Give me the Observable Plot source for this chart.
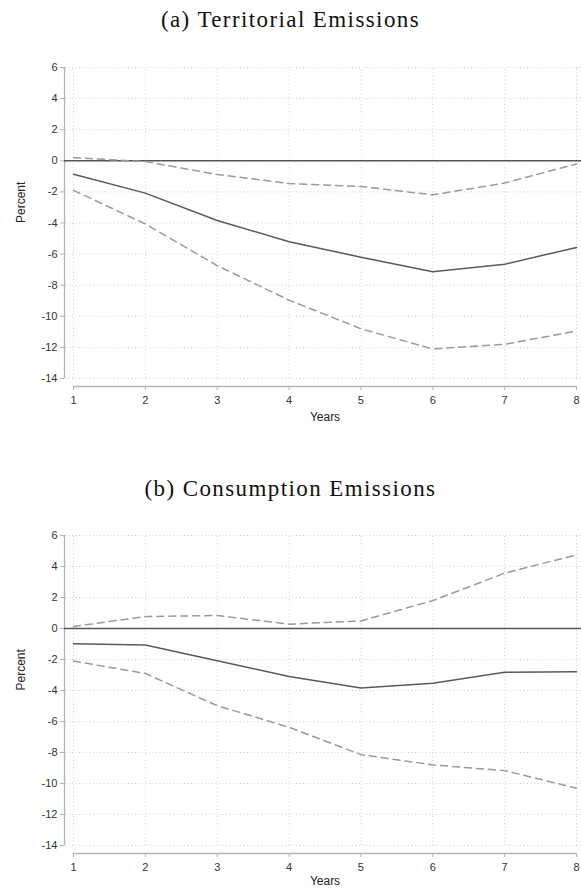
<!DOCTYPE html>
<html>
<head>
<meta charset="utf-8">
<script src="https://cdn.jsdelivr.net/npm/d3@7"></script>
<script src="https://cdn.jsdelivr.net/npm/@observablehq/plot@0.6"></script>
<style>
  html, body { margin: 0; padding: 0; background: #fff; }
  body { width: 581px; }
  .title { font-family: "Liberation Serif", "DejaVu Serif", serif; font-size: 23px; letter-spacing: 1.4px; color: #111; text-align: center; width: 581px; }
  svg { display: block; }
</style>
</head>
<body>
<div id="root"></div>
<script>
const years = [1, 2, 3, 4, 5, 6, 7, 8];
const yTicks = [6, 4, 2, 0, -2, -4, -6, -8, -10, -12, -14];

// (a) Territorial emissions
const terrPoint = [-0.87, -2.08, -3.84, -5.2, -6.2, -7.14, -6.65, -5.57];
const terrUpper = [0.2, -0.05, -0.88, -1.46, -1.65, -2.19, -1.43, -0.2];
const terrLower = [-1.9, -4.06, -6.74, -8.96, -10.8, -12.1, -11.8, -10.95];

// (b) Consumption emissions
const consPoint = [-0.99, -1.07, -2.08, -3.09, -3.84, -3.53, -2.82, -2.79];
const consUpper = [0.13, 0.77, 0.84, 0.28, 0.49, 1.8, 3.57, 4.75];
const consLower = [-2.1, -2.9, -4.98, -6.37, -8.14, -8.8, -9.17, -10.3];

function rows(vals) { return years.map((x, i) => ({x, y: vals[i]})); }

function panel(point, upper, lower, mTop, span, mBottom, yearsDy) {
  const height = mTop + span + mBottom;
  return Plot.plot({
    width: 581,
    height,
    marginTop: mTop,
    marginBottom: mBottom,
    marginLeft: 73,
    marginRight: 5,
    style: { fontFamily: "'Liberation Sans', Arial, sans-serif", fontSize: "11px", color: "#333", background: "#fff" },
    x: { domain: [1, 8], label: null },
    y: { domain: [-14, 6], label: null },
    marks: [
      // grid
      Plot.ruleY(yTicks, { stroke: "#cfcfcf", strokeDasharray: "1,2.5", strokeWidth: 1, insetLeft: -8, insetRight: -5 }),
      Plot.ruleX(years, { y1: -14, y2: 6, stroke: "#cfcfcf", strokeDasharray: "1,2.5", strokeWidth: 1 }),
      // axis lines
      Plot.ruleX([1], { y1: -14, y2: 6, dx: -9, stroke: "#b5b5b5", strokeWidth: 1.3 }),
      Plot.ruleY([-14], { x1: 1, x2: 8, dy: 8, stroke: "#b5b5b5", strokeWidth: 1.3 }),
      Plot.axisY({ ticks: yTicks, tickFormat: d => String(d), dx: -9, tickSize: 4, stroke: "#b5b5b5", tickPadding: 3, label: null }),
      Plot.axisX({ ticks: years, tickFormat: d => String(d), dy: 8, tickSize: 4, stroke: "#b5b5b5", tickPadding: 6, label: null }),
      Plot.text(["Percent"], { frameAnchor: "left", dx: -52, rotate: -90, fontSize: 12, fill: "#222" }),
      Plot.text(["Years"], { frameAnchor: "bottom", dy: yearsDy, fontSize: 12, fill: "#222" }),
      // zero line
      Plot.ruleY([0], { stroke: "#555", strokeWidth: 1.5, insetLeft: -9, insetRight: -5 }),
      // bands and estimate
      Plot.line(rows(upper), { x: "x", y: "y", stroke: "#9a9a9a", strokeWidth: 1.5, strokeDasharray: "7,5" }),
      Plot.line(rows(lower), { x: "x", y: "y", stroke: "#9a9a9a", strokeWidth: 1.5, strokeDasharray: "7,5" }),
      Plot.line(rows(point), { x: "x", y: "y", stroke: "#5a5a5a", strokeWidth: 1.5 })
    ]
  });
}

const root = document.getElementById("root");
const t1 = document.createElement("div");
t1.className = "title";
t1.style.height = "40px";
t1.style.lineHeight = "40px";
t1.textContent = "(a) Territorial Emissions";
root.appendChild(t1);
root.appendChild(panel(terrPoint, terrUpper, terrLower, 27, 311, 50, 42));

const t2 = document.createElement("div");
t2.className = "title";
t2.style.height = "50px";
t2.style.lineHeight = "50px";
t2.style.paddingTop = "36px";
t2.textContent = "(b) Consumption Emissions";
root.appendChild(t2);
root.appendChild(panel(consPoint, consUpper, consLower, 21, 310, 48, 39));
</script>
</body>
</html>
